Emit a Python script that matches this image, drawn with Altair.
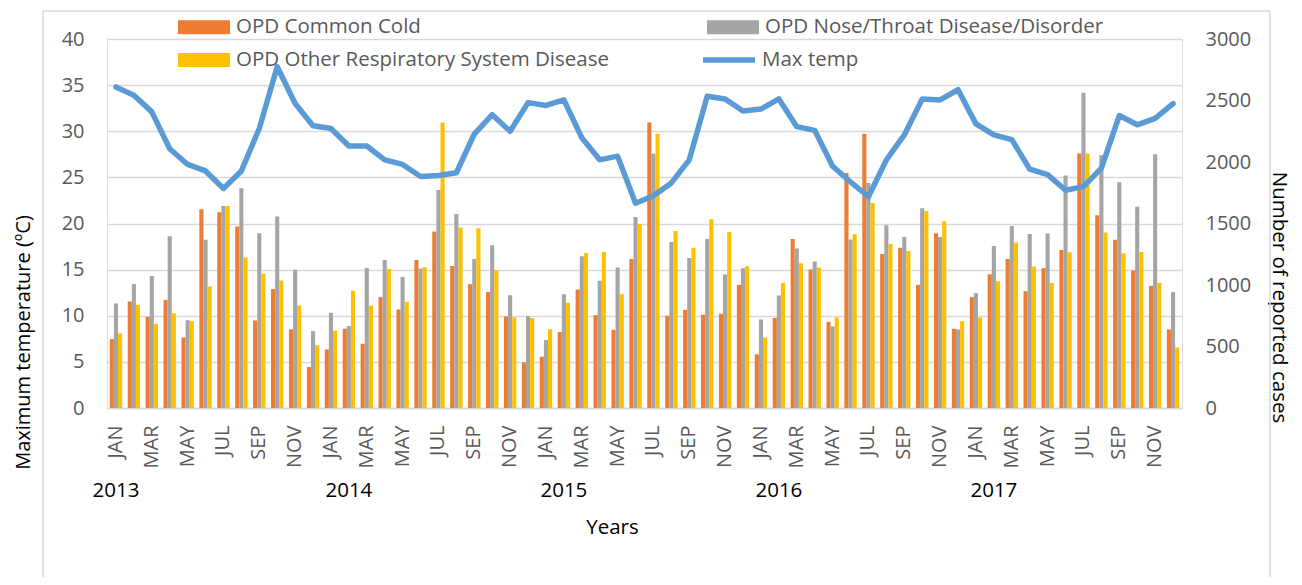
import altair as alt
import pandas as pd

# ---------------- data ----------------
years = [2013, 2014, 2015, 2016, 2017]
month_names = ["JAN", "FEB", "MAR", "APR", "MAY", "JUN",
               "JUL", "AUG", "SEP", "OCT", "NOV", "DEC"]
series_names = ["OPD Common Cold", "OPD Nose/Throat Disease/Disorder",
                "OPD Other Respiratory System Disease"]
line_name = "Max temp"

common_cold = [560, 866, 741, 879, 574, 1615, 1591, 1475, 712, 966, 639, 333,
               476, 644, 522, 901, 801, 1204, 1434, 1155, 1007, 944, 744, 371,
               417, 617, 963, 755, 636, 1212, 2322, 750, 798, 758, 766, 1001,
               436, 733, 1375, 1126, 701, 1910, 2230, 1253, 1302, 1001, 1421, 644,
               901, 1088, 1212, 950, 1137, 1285, 2070, 1567, 1367, 1118, 993, 639]
nose_throat = [850, 1009, 1074, 1396, 714, 1367, 1643, 1786, 1421, 1556, 1123, 625,
               774, 668, 1139, 1204, 1066, 1134, 1772, 1578, 1212, 1323, 917, 747,
               552, 925, 1234, 1034, 1142, 1553, 2067, 1350, 1220, 1375, 1085, 1137,
               720, 915, 1296, 1191, 663, 1369, 1829, 1486, 1391, 1624, 1391, 639,
               934, 1318, 1480, 1415, 1418, 1891, 2563, 2054, 1835, 1637, 2062, 942]
other_resp = [606, 839, 685, 771, 706, 988, 1643, 1223, 1091, 1036, 833, 511,
              628, 953, 833, 1131, 863, 1145, 2322, 1467, 1461, 1120, 736, 731,
              641, 855, 1261, 1269, 925, 1496, 2230, 1440, 1302, 1534, 1431, 1153,
              574, 1017, 1177, 1142, 736, 1413, 1667, 1334, 1277, 1602, 1518, 706,
              736, 1031, 1345, 1150, 1017, 1266, 2070, 1426, 1258, 1269, 1017, 492]
max_temp = [34.8, 33.9, 32.1, 28.1, 26.4, 25.7, 23.8, 25.7, 30.3, 37.0, 33.0, 30.6,
            30.3, 28.4, 28.4, 26.9, 26.4, 25.1, 25.2, 25.5, 29.7, 31.8, 30.0, 33.1,
            32.8, 33.4, 29.3, 26.9, 27.3, 22.2, 23.0, 24.4, 26.9, 33.8, 33.5, 32.2,
            32.4, 33.5, 30.5, 30.1, 26.2, 24.5, 22.9, 26.9, 29.6, 33.5, 33.4, 34.5,
            30.8, 29.6, 29.1, 25.9, 25.3, 23.6, 24.0, 26.0, 31.7, 30.7, 31.4, 33.0]
# month at which each year label sits under the axis
year_label_months = ["2013-01", "2014-02", "2015-02", "2016-02", "2017-02"]

keys = [f"{y}-{m:02d}" for y in years for m in range(1, 13)]
odd_keys = [k for k in keys if int(k[5:]) % 2 == 1]

bars_df = pd.DataFrame({
    "key": keys * 3,
    "series": [series_names[0]] * 60 + [series_names[1]] * 60 + [series_names[2]] * 60,
    "cases": common_cold + nose_throat + other_resp,
})
line_df = pd.DataFrame({"key": keys, "series": line_name, "temp": max_temp})
year_df = pd.DataFrame({"key": year_label_months, "year": [str(y) for y in years]})
border_df = pd.DataFrame({"a": [0]})

# ---------------- styling ----------------
FONT = "Open Sans"
GRAY_TXT = "#595959"
GRID = "#D9D9D9"
bar_colors = ["#ED7D31", "#A5A5A5", "#FFC000"]
line_color = "#5B9BD5"

W, H = 1075, 369

month_js = "[" + ",".join(f"'{m}'" for m in month_names) + "]"
x_axis = alt.Axis(
    values=odd_keys,
    labelExpr=f"{month_js}[toNumber(slice(datum.value, 5)) - 1]",
    labelAngle=270, labelPadding=17, labelFontSize=20, labelColor=GRAY_TXT,
    labelFont=FONT, labelOverlap=False,
    domain=True, domainColor=GRID, domainWidth=1.5,
    ticks=False, tickSize=0, grid=False,
    title="Years", titleFont=FONT, titleFontSize=20.5, titleColor="black",
    titleFontWeight="normal", titleX=505, titleY=119, titleBaseline="middle",
    titleAlign="center",
)
x_scale = alt.Scale(paddingInner=0.31, paddingOuter=0.155)


def xenc():
    return alt.X("key:O", sort=keys, scale=x_scale, axis=x_axis)


bar_symbol = "M-1,-0.54H3V0.54H-1Z"

bars = alt.Chart(bars_df).mark_bar().encode(
    x=xenc(),
    xOffset=alt.XOffset("series:N", sort=series_names,
                        scale=alt.Scale(paddingInner=0, paddingOuter=0)),
    y=alt.Y("cases:Q", scale=alt.Scale(domain=[0, 3000]),
            axis=alt.Axis(orient="right", values=list(range(0, 3001, 500)),
                          format="d",
                          grid=False, domain=False, ticks=False, tickSize=0,
                          labelPadding=23, labelFontSize=20, labelColor=GRAY_TXT,
                          labelFont=FONT,
                          title="Number of reported cases", titleFont=FONT,
                          titleFontSize=20.5, titleColor="black",
                          titleFontWeight="normal", titleAngle=90,
                          titleX=96, titleY=258, titleAlign="center",
                          titleBaseline="middle")),
    color=alt.Color("series:N", sort=series_names,
                    scale=alt.Scale(domain=series_names, range=bar_colors),
                    legend=alt.Legend(orient="none", legendX=71, legendY=-25,
                                      direction="horizontal",
                                      columns=2, title=None, padding=0,
                                      symbolType=bar_symbol, symbolSize=676,
                                      symbolStrokeWidth=0, symbolOpacity=1,
                                      labelOffset=32, labelFont=FONT,
                                      labelFontSize=20.5, labelColor=GRAY_TXT,
                                      labelLimit=600, columnPadding=98,
                                      rowPadding=9)),
)

line = alt.Chart(line_df).mark_line(strokeWidth=5.5, strokeJoin="round",
                                    strokeCap="round").encode(
    x=xenc(),
    y=alt.Y("temp:Q", scale=alt.Scale(domain=[0, 40]),
            axis=alt.Axis(orient="left", values=list(range(0, 41, 5)),
                          grid=True, gridColor=GRID, gridWidth=1.5,
                          domain=False, ticks=False, tickSize=0,
                          labelPadding=23, labelFontSize=20, labelColor=GRAY_TXT,
                          labelFont=FONT,
                          title="Maximum temperature (ºC)", titleFont=FONT,
                          titleFontSize=20, titleColor="black",
                          titleFontWeight="normal", titleAngle=270,
                          titleX=-84, titleY=303, titleAlign="center",
                          titleBaseline="middle")),
    color=alt.Color("series:N",
                    scale=alt.Scale(domain=[line_name], range=[line_color]),
                    legend=alt.Legend(orient="none", legendX=593, legendY=-8,
                                      title=None, padding=0,
                                      symbolType="stroke", symbolSize=2704,
                                      symbolStrokeWidth=5.5,
                                      labelOffset=4, labelFont=FONT,
                                      labelFontSize=20.5, labelColor=GRAY_TXT)),
)

year_text = alt.Chart(year_df).mark_text(
    font=FONT, fontSize=20.5, color="black", align="center", baseline="middle"
).encode(x=xenc(), y=alt.value(452), text="year:N")

left_border = alt.Chart(border_df).mark_rule(color=GRID, strokeWidth=1.5).encode(
    x=alt.value(-64), y=alt.value(-28), y2=alt.value(546))
right_border = alt.Chart(border_df).mark_rule(color=GRID, strokeWidth=1.5).encode(
    x=alt.value(1163), y=alt.value(-28), y2=alt.value(546))
top_border = alt.Chart(border_df).mark_rule(color=GRID, strokeWidth=1.5).encode(
    x=alt.value(-64), x2=alt.value(1163), y=alt.value(-28))

chart = alt.layer(
    left_border, right_border, top_border, bars, line, year_text
).resolve_scale(
    y="independent", color="independent"
).properties(
    width=W, height=H,
    autosize=alt.AutoSizeParams(type="none"),
    padding={"left": 99, "top": 31, "right": 112, "bottom": 169},
).configure_view(stroke=None).configure(font=FONT)

chart.save("out.html", embed_options={"renderer": "svg", "actions": False})
